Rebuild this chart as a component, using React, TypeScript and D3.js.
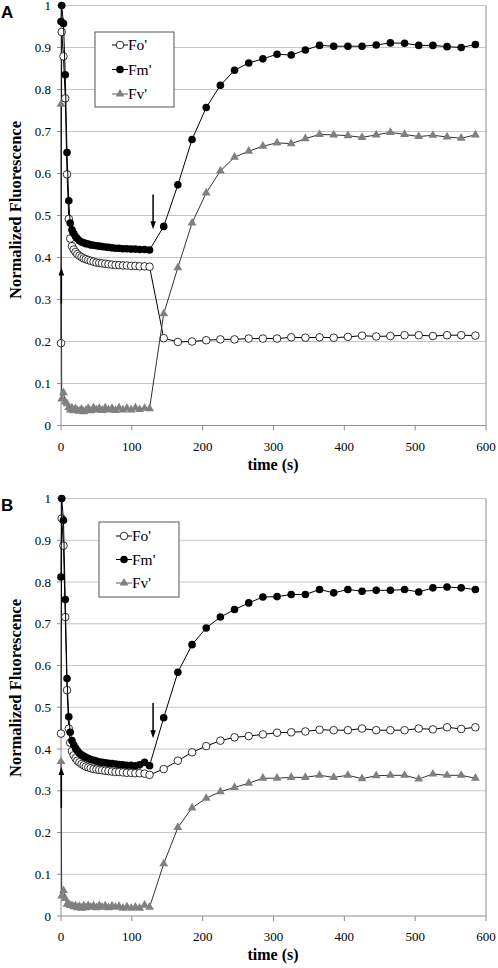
import React from "react";
import * as d3 from "d3";

// time points (s)
const times = [0, 1, 3.5, 6, 8.5, 11, 13, 15.5, 18, 20.5, 23, 26, 29, 32, 35, 38.5, 42, 46, 50, 54, 58, 62.5, 67, 72, 77, 82, 87.5, 93, 99, 105, 111, 118, 125,
  145, 165, 185, 205, 225, 245, 265, 285, 305, 325, 345, 365, 385, 405, 425, 445, 465, 485, 505, 525, 545, 565, 585];

const seriesNames = ["Fo'", "Fm'", "Fv'"];
const xTicks = [0, 100, 200, 300, 400, 500, 600];
const yTicks = [0, 0.1, 0.2, 0.3, 0.4, 0.5, 0.6, 0.7, 0.8, 0.9, 1];
const panelLetters = ["A", "B"];

// Panel A
const foA = [0.196, 0.937, 0.879, 0.779, 0.598, 0.492, 0.445, 0.427, 0.419, 0.413, 0.408, 0.404, 0.401, 0.398, 0.396, 0.394, 0.392, 0.390, 0.388, 0.387, 0.386, 0.385, 0.384, 0.383, 0.382, 0.382, 0.381, 0.381, 0.380, 0.380, 0.379, 0.379, 0.378,
  0.208, 0.199, 0.200, 0.203, 0.205, 0.205, 0.207, 0.207, 0.207, 0.210, 0.209, 0.210, 0.209, 0.211, 0.214, 0.212, 0.213, 0.215, 0.215, 0.213, 0.215, 0.215, 0.214];
const fmA = [0.962, 1.0, 0.957, 0.835, 0.650, 0.535, 0.482, 0.466, 0.457, 0.450, 0.445, 0.440, 0.437, 0.435, 0.433, 0.432, 0.430, 0.429, 0.428, 0.427, 0.426, 0.425, 0.424, 0.423, 0.422, 0.422, 0.421, 0.421, 0.420, 0.420, 0.419, 0.419, 0.418,
  0.474, 0.573, 0.681, 0.757, 0.810, 0.846, 0.863, 0.873, 0.884, 0.882, 0.894, 0.905, 0.903, 0.903, 0.903, 0.906, 0.911, 0.910, 0.905, 0.905, 0.902, 0.900, 0.907];
const fvA = [0.765, 0.063, 0.078, 0.056, 0.052, 0.043, 0.037, 0.042, 0.035, 0.040, 0.036, 0.034, 0.039, 0.033, 0.036, 0.041, 0.035, 0.042, 0.037, 0.041, 0.036, 0.042, 0.037, 0.041, 0.036, 0.042, 0.037, 0.041, 0.037, 0.042, 0.038, 0.041, 0.040,
  0.266, 0.376, 0.482, 0.554, 0.606, 0.639, 0.653, 0.665, 0.673, 0.671, 0.683, 0.693, 0.692, 0.690, 0.686, 0.692, 0.698, 0.693, 0.688, 0.691, 0.687, 0.684, 0.692];

// Panel B
const foB = [0.437, 0.952, 0.887, 0.716, 0.541, 0.449, 0.415, 0.395, 0.385, 0.378, 0.372, 0.368, 0.364, 0.361, 0.358, 0.356, 0.354, 0.352, 0.351, 0.350, 0.349, 0.348, 0.347, 0.346, 0.345, 0.345, 0.344, 0.343, 0.343, 0.342, 0.342, 0.341, 0.338,
  0.352, 0.372, 0.392, 0.407, 0.420, 0.428, 0.431, 0.435, 0.439, 0.440, 0.442, 0.446, 0.445, 0.445, 0.449, 0.445, 0.445, 0.445, 0.449, 0.447, 0.452, 0.448, 0.452];
const fmB = [0.812, 1.0, 0.948, 0.758, 0.569, 0.477, 0.440, 0.420, 0.410, 0.402, 0.396, 0.390, 0.386, 0.383, 0.380, 0.377, 0.375, 0.373, 0.371, 0.369, 0.368, 0.367, 0.366, 0.365, 0.364, 0.363, 0.362, 0.361, 0.361, 0.360, 0.362, 0.368, 0.360,
  0.475, 0.584, 0.650, 0.690, 0.716, 0.734, 0.750, 0.764, 0.765, 0.770, 0.770, 0.782, 0.774, 0.782, 0.778, 0.780, 0.780, 0.782, 0.776, 0.786, 0.788, 0.786, 0.782];
const fvB = [0.370, 0.048, 0.061, 0.042, 0.028, 0.028, 0.025, 0.025, 0.022, 0.024, 0.020, 0.023, 0.019, 0.024, 0.020, 0.025, 0.021, 0.024, 0.020, 0.025, 0.021, 0.024, 0.020, 0.024, 0.021, 0.023, 0.019, 0.022, 0.019, 0.021, 0.019, 0.026, 0.021,
  0.125, 0.212, 0.259, 0.282, 0.298, 0.308, 0.318, 0.330, 0.330, 0.332, 0.332, 0.337, 0.332, 0.337, 0.329, 0.336, 0.337, 0.337, 0.328, 0.340, 0.337, 0.337, 0.330];

// arrow annotations: [time, tailValue, headValue]
const arrowsA = [[0.5, 0.29, 0.376], [130, 0.55, 0.467]];
const arrowsB = [[0.5, 0.259, 0.357], [130, 0.51, 0.426]];

const SERIF = { fontFamily: "Liberation Serif, Times New Roman, Times, DejaVu Serif, serif" };
const SANS = { fontFamily: "Liberation Sans, Arial, Helvetica, sans-serif" };

type PanelProps = {
  letter: string;
  top: number;
  bottom: number;
  fo: number[];
  fm: number[];
  fv: number[];
  arrows: number[][];
  legend: { x: number; y: number; w: number; h: number; step: number };
  titleY: number;
};

function Panel({ letter, top, bottom, fo, fm, fv, arrows, legend, titleY }: PanelProps) {
  const x = d3.scaleLinear().domain([0, 600]).range([61, 486]);
  const y = d3.scaleLinear().domain([0, 1]).range([bottom, top]);
  const line = d3
    .line<number>()
    .x((_, i) => x(times[i]))
    .y((d) => y(d));
  const tri = d3.symbol().type(d3.symbolTriangle).size(34)() as string;
  const grid = "#c6c6c6";
  const axis = "#8c8c8c";
  const triColor = "#808080";

  return (
    <g>
      <text x={1} y={top + 12} style={SANS} fontWeight="bold" fontSize={17}>
        {letter}
      </text>
      {/* gridlines */}
      {yTicks.slice(1).map((t) => (
        <line key={t} x1={x(0)} x2={x(600)} y1={y(t)} y2={y(t)} stroke={grid} strokeWidth={1} />
      ))}
      {/* right frame */}
      <line x1={x(600)} x2={x(600)} y1={y(1)} y2={y(0)} stroke={axis} strokeWidth={1} />
      {/* axes */}
      <line x1={x(0)} x2={x(600)} y1={y(0)} y2={y(0)} stroke={axis} strokeWidth={1} />
      <line x1={x(0)} x2={x(0)} y1={y(0)} y2={y(1)} stroke={axis} strokeWidth={1} />
      {yTicks.map((t) => (
        <g key={t}>
          <line x1={x(0) - 4} x2={x(0)} y1={y(t)} y2={y(t)} stroke={axis} />
          <text x={51} y={y(t) + 4.5} textAnchor="end" style={SERIF} fontSize={13}>
            {d3.format("~g")(t)}
          </text>
        </g>
      ))}
      {xTicks.map((t) => (
        <g key={t}>
          <line x1={x(t)} x2={x(t)} y1={y(0)} y2={y(0) + 5} stroke={axis} />
          <text x={x(t)} y={y(0) + 25} textAnchor="middle" style={SERIF} fontSize={13}>
            {t}
          </text>
        </g>
      ))}
      <text x={273} y={y(0) + 44} textAnchor="middle" style={SERIF} fontWeight="bold" fontSize={16}>
        time (s)
      </text>
      <text
        transform={`translate(21,${titleY}) rotate(-90)`}
        textAnchor="middle"
        style={SERIF}
        fontWeight="bold"
        fontSize={16.5}
      >
        Normalized Fluorescence
      </text>

      {/* series */}
      <path d={line(fo) || ""} fill="none" stroke="#000" strokeWidth={1} />
      {fo.map((v, i) => (
        <circle key={"o" + i} cx={x(times[i])} cy={y(v)} r={3.8} fill="#fff" stroke="#000" strokeWidth={0.8} />
      ))}
      <path d={line(fm) || ""} fill="none" stroke="#000" strokeWidth={1} />
      {fm.map((v, i) => (
        <circle key={"m" + i} cx={x(times[i])} cy={y(v)} r={3.8} fill="#000" />
      ))}
      <path d={line(fv) || ""} fill="none" stroke="#333" strokeWidth={1} />
      {fv.map((v, i) => (
        <path key={"v" + i} d={tri} transform={`translate(${x(times[i])},${y(v)})`} fill={triColor} />
      ))}

      {/* arrows */}
      {arrows.map(([t, a, b], i) => {
        const up = b > a;
        const hx = x(t);
        const hy = y(b);
        const dir = up ? 1 : -1;
        return (
          <g key={"a" + i}>
            <line x1={hx} x2={hx} y1={y(a)} y2={hy + dir * 6} stroke="#000" strokeWidth={1.5} />
            <path d={`M${hx},${hy} L${hx - 2.8},${hy + dir * 8} L${hx + 2.8},${hy + dir * 8} Z`} fill="#000" />
          </g>
        );
      })}

      {/* legend */}
      <rect x={legend.x} y={legend.y} width={legend.w} height={legend.h} fill="#fff" stroke="#555" strokeWidth={1} />
      {seriesNames.map((name, i) => {
        const cy = legend.y + legend.h / 2 + (i - 1) * legend.step;
        const mx = legend.x + 25;
        return (
          <g key={name}>
            <line x1={legend.x + 17} x2={legend.x + 33} y1={cy} y2={cy} stroke={i === 2 ? "#555" : "#000"} strokeWidth={1} />
            {i === 0 && <circle cx={mx} cy={cy} r={3.8} fill="#fff" stroke="#000" strokeWidth={0.8} />}
            {i === 1 && <circle cx={mx} cy={cy} r={3.8} fill="#000" />}
            {i === 2 && <path d={tri} transform={`translate(${mx},${cy})`} fill={triColor} />}
            <text x={legend.x + 33} y={cy + 5} style={SERIF} fontSize={15.5}>
              {name}
            </text>
          </g>
        );
      })}
    </g>
  );
}

export default function App() {
  return (
    <svg width={498} height={968} style={{ position: "absolute", left: 0, top: 0, background: "#fff" }}>
      <rect width={498} height={968} fill="#fff" />
      <Panel
        letter={panelLetters[0]}
        top={5.5}
        bottom={425.5}
        fo={foA}
        fm={fmA}
        fv={fvA}
        arrows={arrowsA}
        legend={{ x: 95, y: 32, w: 79, h: 75, step: 24.5 }}
        titleY={210}
      />
      <Panel
        letter={panelLetters[1]}
        top={498.5}
        bottom={916}
        fo={foB}
        fm={fmB}
        fv={fvB}
        arrows={arrowsB}
        legend={{ x: 99, y: 522, w: 80, h: 75, step: 23.5 }}
        titleY={688}
      />
    </svg>
  );
}
